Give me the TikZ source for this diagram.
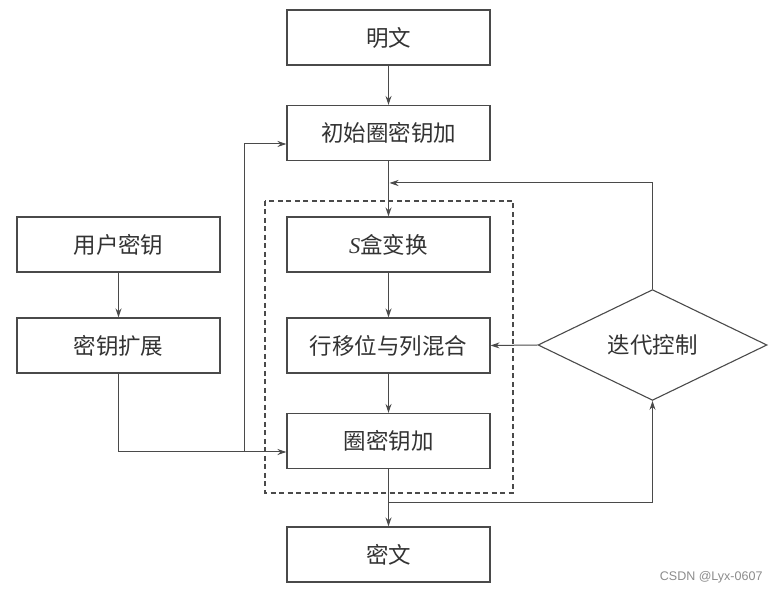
\documentclass[tikz,border=0pt]{standalone}
\usepackage{fontspec}
\newfontfamily\cjk{Noto Sans CJK SC}
\newfontfamily\tms{Liberation Serif}
\newfontfamily\wm{Liberation Sans}
\usetikzlibrary{shapes.geometric,arrows.meta}
\definecolor{linegray}{HTML}{4A4A4A}
\definecolor{textgray}{HTML}{333333}
\begin{document}
\begin{tikzpicture}[x=1pt,y=-1pt,
  box/.style={draw=linegray, line width=1.1pt, minimum width=203pt, minimum height=55pt,
    inner sep=0pt, font=\cjk\fontsize{22.5}{22.5}\selectfont, text=textgray},
  dia/.style={draw=linegray, line width=1.1pt, shape=diamond, minimum width=229pt,
    minimum height=108pt, inner sep=0pt, font=\cjk\fontsize{22.5}{22.5}\selectfont, text=textgray},
  arr/.style={draw=linegray, line width=1pt, -{Stealth[length=9pt,width=6pt]}},
  ln/.style={draw=linegray, line width=1pt},
  dashbox/.style={draw=linegray, line width=1.1pt, dash pattern=on 5pt off 3.5pt}]
\useasboundingbox[fill=white] (0,0) rectangle (780,593);

\draw[dashbox] (265,201) rectangle (513,493);

\node[box] (mw)    at (388.5,37.5)  {明文};
\node[box] (init)  at (388.5,133)   {初始圈密钥加};
\node[box] (sbox)  at (388.5,244.5) {{\tms\itshape S}盒变换};
\node[box] (shift) at (388.5,345.5) {行移位与列混合};
\node[box] (rk)    at (388.5,441)   {圈密钥加};
\node[box] (cw)    at (388.5,554.5) {密文};
\node[box] (uk)    at (118.5,244.5) {用户密钥};
\node[box] (ke)    at (118.5,345.5) {密钥扩展};
\node[dia] (ctrl)  at (652.5,345)   {迭代控制};

\draw[arr] (mw) -- (init);
\draw[arr] (init) -- (sbox);
\draw[arr] (sbox) -- (shift);
\draw[arr] (shift) -- (rk);
\draw[arr] (rk) -- (cw);
\draw[arr] (uk) -- (ke);
\draw[arr] (ctrl.west) -- (shift.east);

\coordinate (fb) at (389.5,183);
\draw[arr] (ctrl.north) |- (fb);
\coordinate (br) at (388.5,503);
\draw[arr] (br) -| (ctrl.south);

\coordinate (rkin) at ([yshift=-11pt]rk.west);
\coordinate (inin) at ([yshift=-11pt]init.west);
\coordinate (kb) at (244,452);
\draw[arr] (ke.south) |- (rkin);
\draw[arr] (kb) |- (inin);

\node[font=\wm\fontsize{12.5}{12.5}\selectfont, text=black!45, anchor=east] (wmk) at (766,577) {CSDN @Lyx-0607};
\end{tikzpicture}
\end{document}
